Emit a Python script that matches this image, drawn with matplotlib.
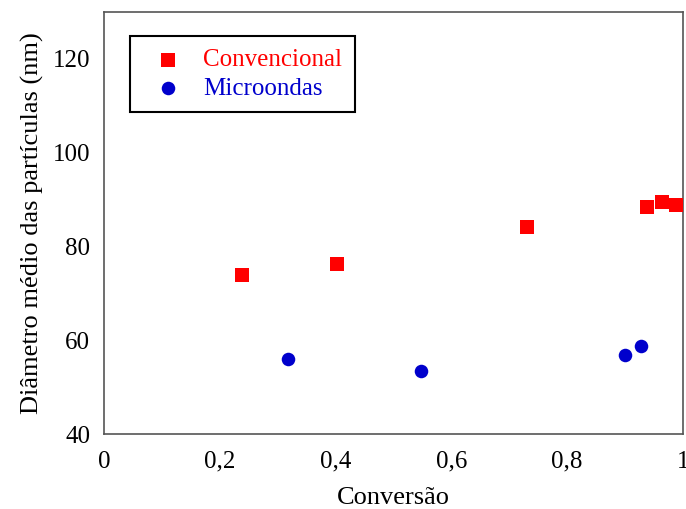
import matplotlib.pyplot as plt

# conversão vs diâmetro médio (nm)
conv_x = [0.238, 0.402, 0.730, 0.938, 0.964, 0.988]
conv_y = [74.0, 76.3, 84.1, 88.4, 89.4, 88.8]
micro_x = [0.318, 0.547, 0.900, 0.927]
micro_y = [55.9, 53.4, 56.8, 58.7]

xticks = [0, 0.2, 0.4, 0.6, 0.8, 1.0]
xtick_labels = ['0', '0,2', '0,4', '0,6', '0,8', '1']
yticks = [40, 60, 80, 100, 120]

plt.rcParams['font.family'] = ['Liberation Serif', 'DejaVu Serif']

fig = plt.figure(figsize=(6.86, 5.09), dpi=100)
ax = fig.add_axes([0.1516, 0.1473, 0.8440, 0.8291])

ax.scatter(conv_x, conv_y, marker='s', s=100, color='#ff0000', linewidths=0,
           label='Convencional', zorder=3)
ax.scatter(micro_x, micro_y, marker='o', s=95, color='#0000cc', linewidths=0,
           label='Microondas', zorder=3)

ax.set_xlim(0, 1)
ax.set_ylim(40, 130)
ax.set_xticks(xticks)
ax.set_xticklabels(xtick_labels)
ax.set_yticks(yticks)
ax.tick_params(length=0, labelsize=18)
ax.tick_params(axis='x', pad=12)
ax.tick_params(axis='y', pad=10)
for sp in ax.spines.values():
    sp.set_color('#555555')
    sp.set_linewidth(1.2)

ax.set_xlabel('Conversão', fontsize=19, labelpad=10)
ax.set_ylabel('Diâmetro médio das partículas (nm)', fontsize=19, labelpad=6)

leg = ax.legend(loc='upper left', bbox_to_anchor=(0.045, 0.943), borderaxespad=0,
                fontsize=18, fancybox=False, framealpha=1, edgecolor='black',
                handletextpad=0.42, borderpad=0.5, labelspacing=0.25)
leg.get_frame().set_linewidth(1.5)
for txt, c in zip(leg.get_texts(), ['#ff0000', '#0000cc']):
    txt.set_color(c)

fig.savefig('out.png', dpi=100)
